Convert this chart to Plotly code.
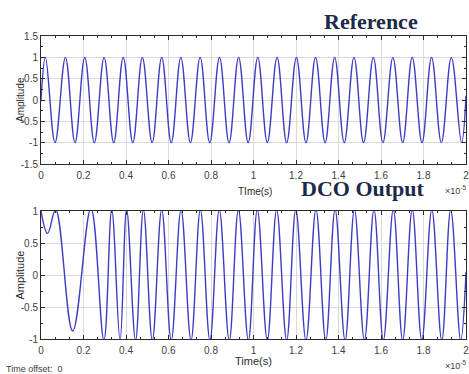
import plotly.graph_objects as go
from plotly.subplots import make_subplots

# ---------------- data (time in units of 1e-5 s) ----------------
ref_t = [0.000,
         0.021, 0.066, 0.115, 0.160, 0.206, 0.251, 0.297, 0.342, 0.387, 0.432,
         0.477, 0.523, 0.568, 0.613, 0.658, 0.703, 0.749, 0.794, 0.840, 0.885,
         0.930, 0.975, 1.020, 1.065, 1.111, 1.156, 1.202, 1.247, 1.292, 1.337,
         1.382, 1.427, 1.473, 1.518, 1.564, 1.609, 1.656, 1.702, 1.747, 1.793,
         1.838, 1.884, 1.931, 1.979,
         2.000]
ref_amp = [0.0,
           1, -1, 1, -1, 1, -1, 1, -1, 1, -1,
           1, -1, 1, -1, 1, -1, 1, -1, 1, -1,
           1, -1, 1, -1, 1, -1, 1, -1, 1, -1,
           1, -1, 1, -1, 1, -1, 1, -1, 1, -1,
           1, -1, 1, -1,
           0.1]

dco_t = [0.000, 0.031, 0.069, 0.149, 0.235, 0.296, 0.333, 0.372, 0.403, 0.445,
         0.482, 0.524, 0.568, 0.613, 0.659, 0.706, 0.750, 0.795, 0.839, 0.886,
         0.929, 0.976, 1.018, 1.065, 1.109, 1.156, 1.199, 1.247, 1.294, 1.340,
         1.384, 1.431, 1.475, 1.522, 1.567, 1.611, 1.658, 1.702, 1.747, 1.792,
         1.839, 1.886, 1.928, 1.975, 2.000]
dco_amp = [1.00, 0.65, 1.02, -0.875, 1.04, -1.02, 1.02, -1.02, 1.02, -1.02,
           1.02, -1.02, 1.02, -1.02, 1.02, -1.02, 1.02, -1.02, 1.02, -1.02,
           1.02, -1.02, 1.02, -1.02, 1.02, -1.02, 1.02, -1.02, 1.02, -1.02,
           1.02, -1.02, 1.02, -1.02, 1.02, -1.02, 1.02, -1.02, 1.02, -1.02,
           1.02, -1.02, 1.02, -1.02, 0.05]

x_ticks = [0, 0.2, 0.4, 0.6, 0.8, 1.0, 1.2, 1.4, 1.6, 1.8, 2.0]
x_tick_labels = ["0", "0.2", "0.4", "0.6", "0.8", "1", "1.2", "1.4", "1.6", "1.8", "2"]
y1_ticks = [-1.5, -1, -0.5, 0, 0.5, 1, 1.5]
y1_tick_labels = ["-1.5", "-1", "-0.5", "0", "0.5", "1", "1.5"]
y2_ticks = [-1, -0.5, 0, 0.5, 1]
y2_tick_labels = ["-1", "-0.5", "0", "0.5", "1"]

# ---------------- layout helpers ----------------
W, H = 469, 374
ML, MR, MT, MB = 41, 3, 36, 35
PW, PH = W - ML - MR, H - MT - MB


def px(x):
    return (x - ML) / PW


def py(y):
    return (H - MB - y) / PH


LINE_COLOR = "#3d3dc2"
AX_COLOR = "#2a2a2a"
GRID = "#dadada"
TICK_FONT = dict(family="Liberation Sans, Arial, sans-serif", size=10, color="#404040")

fig = make_subplots(rows=2, cols=1, vertical_spacing=0.0)
fig.add_trace(go.Scatter(x=ref_t, y=ref_amp, mode="lines",
                         line=dict(color=LINE_COLOR, width=1.4, shape="spline", smoothing=1.1),
                         showlegend=False), row=1, col=1)
fig.add_trace(go.Scatter(x=dco_t, y=dco_amp, mode="lines",
                         line=dict(color=LINE_COLOR, width=1.4, shape="spline", smoothing=1.1),
                         showlegend=False), row=2, col=1)

common_x = dict(range=[0, 2.00001], tickvals=x_ticks, ticktext=x_tick_labels,
                showline=True, linecolor=AX_COLOR, linewidth=1, mirror="ticks",
                ticks="inside", ticklen=4, tickcolor=AX_COLOR, automargin=False,
                showgrid=True, gridcolor=GRID, gridwidth=1, zeroline=False,
                tickfont=TICK_FONT, ticklabelstandoff=2, ticklabeloverflow="allow",
                minor=dict(ticks="inside", ticklen=2, tickcolor=AX_COLOR,
                           tick0=0, dtick=0.2 / 3, showgrid=False))
common_y = dict(showline=True, linecolor=AX_COLOR, linewidth=1, mirror="ticks",
                ticks="inside", ticklen=4, tickcolor=AX_COLOR, automargin=False,
                showgrid=True, gridcolor=GRID, gridwidth=1, zeroline=False,
                tickfont=TICK_FONT, ticklabeloverflow="allow",
                minor=dict(ticks="inside", ticklen=2, tickcolor=AX_COLOR,
                           tick0=0, dtick=0.25, showgrid=False))

fig.update_xaxes(**common_x)
fig.update_yaxes(**common_y)
fig.update_layout(
    xaxis=dict(domain=[0, 1]),
    xaxis2=dict(domain=[0, 1]),
    yaxis=dict(domain=[py(164), py(36)], range=[-1.5, 1.5],
               tickvals=y1_ticks, ticktext=y1_tick_labels),
    yaxis2=dict(domain=[py(339), py(211)], range=[-1, 1],
                tickvals=y2_ticks, ticktext=y2_tick_labels),
)

ann = []
TITLE_FONT = dict(family="Liberation Serif, Times New Roman, serif", size=22, color="#1b2a4a")
ann.append(dict(text="<b>Reference</b>", x=px(370.5), y=py(21.5), font=TITLE_FONT,
                xanchor="center", yanchor="middle"))
ann.append(dict(text="<b>DCO Output</b>", x=px(363), y=py(188.5), font=TITLE_FONT,
                xanchor="center", yanchor="middle"))
LBL = dict(family="Liberation Sans, Arial, sans-serif", size=10, color="#2a2a2a")
ann.append(dict(text="TIme(s)", x=px(255), y=py(191), font=LBL,
                xanchor="center", yanchor="middle"))
ann.append(dict(text="Time(s)", x=px(253), y=py(361), font=dict(LBL, size=11),
                xanchor="center", yanchor="middle"))
ann.append(dict(text="Amplitude", x=px(20), y=py(100), font=LBL, textangle=-90,
                xanchor="center", yanchor="middle"))
ann.append(dict(text="Amplitude", x=px(19.5), y=py(275), font=dict(LBL, size=11), textangle=-90,
                xanchor="center", yanchor="middle"))
EXP = dict(family="Liberation Sans, Arial, sans-serif", size=9, color="#3c3c3c")
ann.append(dict(text="×10<sup>-5</sup>", x=px(468), y=py(190), font=EXP,
                xanchor="right", yanchor="middle"))
ann.append(dict(text="×10<sup>-5</sup>", x=px(468), y=py(365), font=EXP,
                xanchor="right", yanchor="middle"))
ann.append(dict(text="Time offset:  0", x=px(4), y=py(369), font=dict(EXP, size=9),
                xanchor="left", yanchor="middle"))
for a in ann:
    a.update(xref="paper", yref="paper", showarrow=False)

fig.update_layout(annotations=ann, width=W, height=H,
                  margin=dict(l=ML, r=MR, t=MT, b=MB),
                  paper_bgcolor="white", plot_bgcolor="white",
                  showlegend=False)

fig.write_html("out.html", config={"displayModeBar": False},
               post_script="document.body.style.margin='0';document.body.style.overflow='hidden';")
